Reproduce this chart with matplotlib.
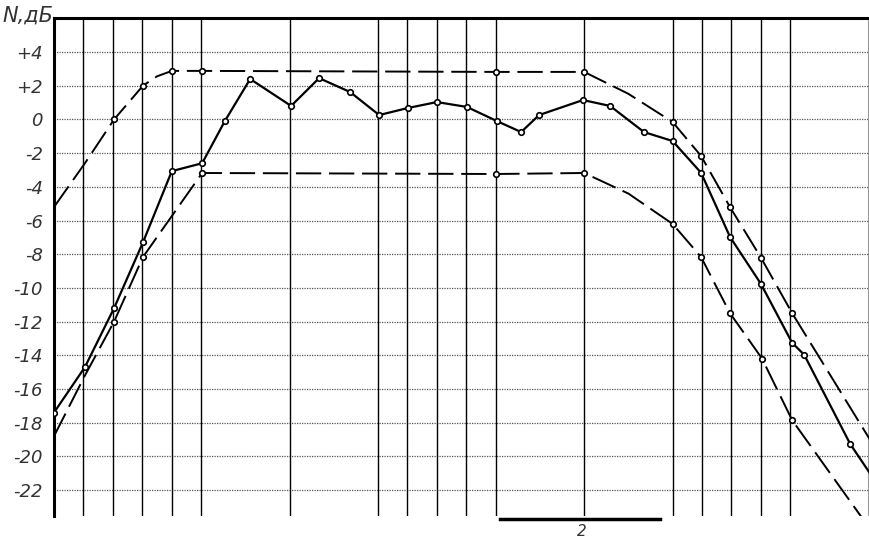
import matplotlib.pyplot as plt

# x in grid steps (one step = spacing of the dense vertical lines), y in dB
v_lines = [0, 1, 2, 3, 4, 5, 8, 11, 12, 13, 14, 15, 18, 21, 22, 23, 24, 25]
y_ticks = [4, 2, 0, -2, -4, -6, -8, -10, -12, -14, -16, -18, -20, -22]
y_labels = ['+4', '+2', '0', '-2', '-4', '-6', '-8', '-10', '-12', '-14',
            '-16', '-18', '-20', '-22']

# upper dashed curve
up_x = [0, 1.05, 2.04, 3.02, 3.5, 4.0, 5.03, 15.0, 18.0, 19.5, 21.0, 21.97,
        22.95, 24.0, 25.06, 27.7]
up_y = [-5.2, -2.6, 0.0, 2.0, 2.56, 2.88, 2.88, 2.82, 2.82, 1.52, -0.15,
        -2.17, -5.2, -8.2, -11.5, -19.0]
up_mx = [2.04, 3.02, 4.0, 5.03, 15.0, 18.0, 21.0, 21.97, 22.95, 24.0, 25.06]
up_my = [0.0, 2.0, 2.88, 2.88, 2.82, 2.82, -0.15, -2.17, -5.2, -8.2, -11.5]

# measured response (solid)
mid_x = [0, 1.05, 2.04, 3.02, 4.0, 5.03, 5.8, 6.66, 8.05, 9.0, 10.05, 11.04,
         12.02, 13.0, 14.02, 15.04, 15.86, 16.47, 17.96, 18.88, 20.03, 21.0,
         21.97, 22.95, 24.0, 25.06, 25.47, 27.03]
mid_y = [-17.4, -14.7, -11.2, -7.3, -3.07, -2.6, -0.1, 2.4, 0.8, 2.45, 1.63,
         0.26, 0.68, 1.03, 0.74, -0.1, -0.75, 0.26, 1.15, 0.8, -0.75, -1.28,
         -3.17, -6.97, -9.76, -13.26, -13.97, -19.26]
mid_end_x = [27.03, 27.7]
mid_end_y = [-19.26, -21.0]

# lower dashed curve
lo_x = [0, 1.05, 2.04, 3.02, 5.03, 15.0, 18.0, 19.5, 21.0, 21.97, 22.95,
        24.04, 25.06, 27.7]
lo_y = [-18.8, -15.2, -12.0, -8.17, -3.18, -3.24, -3.18, -4.4, -6.2, -8.17,
        -11.5, -14.2, -17.85, -24.3]
lo_mx = [2.04, 3.02, 5.03, 15.0, 18.0, 21.0, 21.97, 22.95, 24.04, 25.06]
lo_my = [-12.0, -8.17, -3.18, -3.24, -3.18, -6.2, -8.17, -11.5, -14.2, -17.85]

fig = plt.figure(figsize=(8.69, 5.40), dpi=100)
ax = fig.add_axes([54 / 869, 24 / 540, 815 / 869, 498 / 540])
ax.set_xlim(0, 27.67)
ax.set_ylim(-23.54, 6.02)

for y in y_ticks:
    ax.axhline(y, color='#555555', lw=0.9, ls=(0, (1, 1)), zorder=1)
for x in v_lines:
    ax.axvline(x, color='black', lw=1.0, zorder=1)
ax.axvline(27.62, color='#999999', lw=0.8, zorder=1)

dash = (0, (13, 4))
ax.plot(up_x, up_y, color='black', lw=1.4, ls=dash, zorder=2)
ax.plot(lo_x, lo_y, color='black', lw=1.4, ls=dash, zorder=2)
ax.plot(mid_x, mid_y, color='black', lw=1.6, zorder=3)
ax.plot(mid_end_x, mid_end_y, color='black', lw=1.6, zorder=3)

ax.plot(up_mx, up_my, 'o', ms=4, mfc='white', mec='black', mew=1.2, zorder=4)
ax.plot(lo_mx, lo_my, 'o', ms=4, mfc='white', mec='black', mew=1.2, zorder=4)
ax.plot(mid_x, mid_y, 'o', ms=4, mfc='white', mec='black', mew=1.2, zorder=4)

ax.set_xticks([])
ax.set_yticks(y_ticks)
ax.set_yticklabels(y_labels, fontsize=13, style='italic', color='#333333')
ax.tick_params(axis='y', length=0, pad=8)
ax.spines['left'].set_linewidth(2.2)
ax.spines['top'].set_linewidth(2.2)
ax.spines['right'].set_visible(False)
ax.spines['bottom'].set_visible(False)

fig.text(2 / 869, 1 - 16 / 540, 'N,дБ', fontsize=15, style='italic',
         va='center', ha='left', color='#333333')

# scale bar under the plot
fig.add_artist(plt.Line2D([500 / 869, 660 / 869], [1 - 519 / 540, 1 - 519 / 540],
                          color='black', lw=2.5))
fig.text(582 / 869, 1 - 531 / 540, '2', fontsize=11, style='italic',
         ha='center', va='center', color='#333333')

fig.savefig('out.png', dpi=100)
